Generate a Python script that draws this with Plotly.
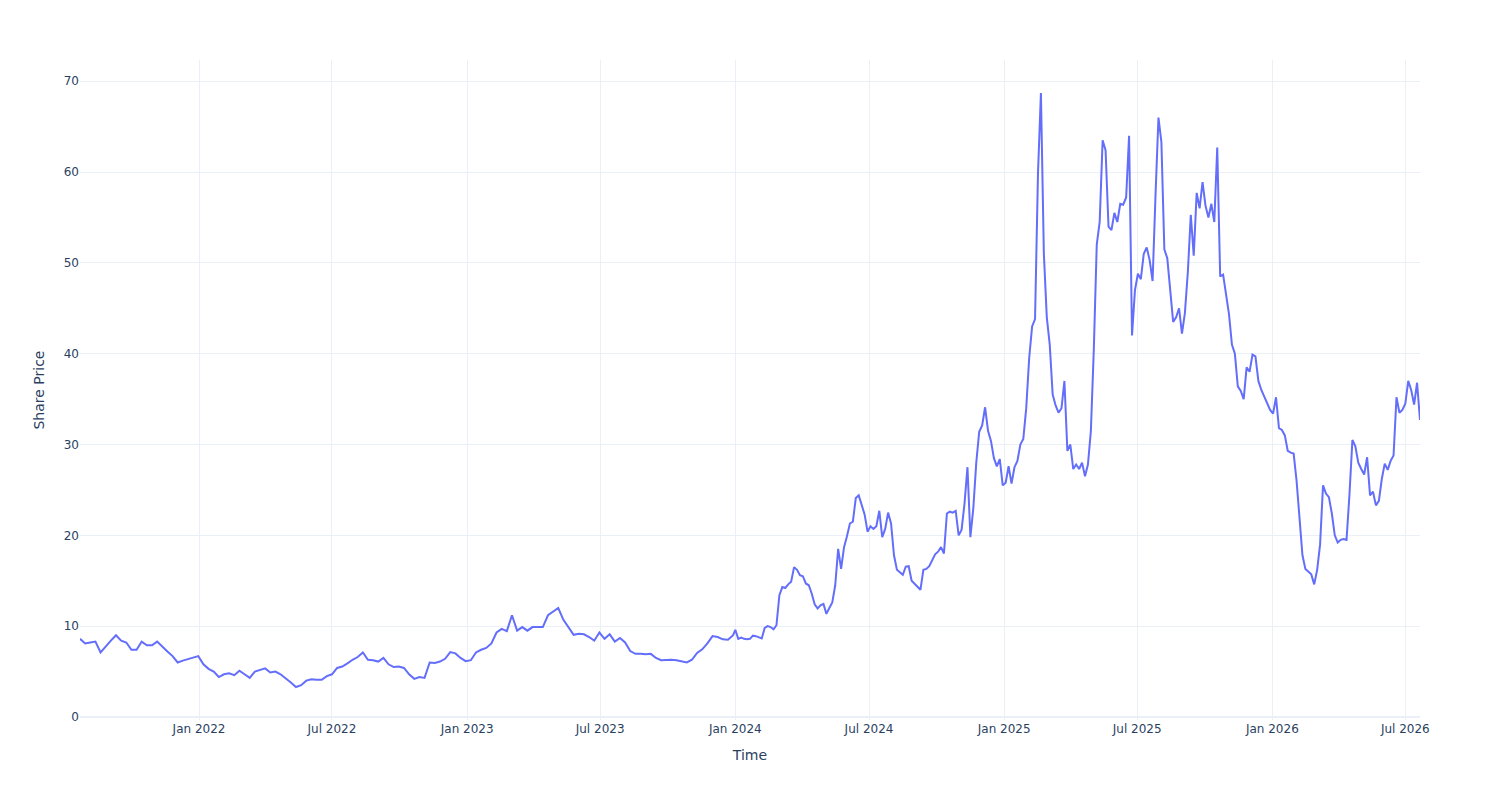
import pandas as pd
import plotly.graph_objects as go

# Weekly closes, Jul 2021 - Dec 2023
prices_2021_2023 = [
    8.6, 8.1, 8.2, 8.3, 7.1, 7.8, 8.4, 9.0, 8.4, 8.2,
    7.4, 7.4, 8.3, 7.9, 7.9, 8.3, 7.7, 7.2, 6.7, 6.0,
    6.2, 6.35, 6.5, 6.7, 5.8, 5.3, 5.0, 4.4, 4.7, 4.8,
    4.6, 5.1, 4.7, 4.3, 5.0, 5.2, 5.35, 4.9, 5.0, 4.7,
    4.3, 3.8, 3.3, 3.5, 4.0, 4.15, 4.1, 4.1, 4.5, 4.7,
    5.4, 5.55, 5.9, 6.3, 6.6, 7.1, 6.3, 6.25, 6.1, 6.5,
    5.8, 5.5, 5.55, 5.4, 4.7, 4.2, 4.4, 4.3, 6.0, 5.95,
    6.1, 6.4, 7.15, 7.0, 6.5, 6.15, 6.25, 7.1, 7.4, 7.6,
    8.1, 9.3, 9.7, 9.45, 11.2, 9.5, 9.9, 9.5, 9.9, 9.9,
    9.9, 11.2, 11.6, 12.0, 10.7, 9.85, 9.05, 9.15, 9.1, 8.8,
    8.4, 9.3, 8.6, 9.1, 8.3, 8.7, 8.2, 7.25, 6.95, 6.95,
    6.9, 6.95, 6.5, 6.25, 6.3, 6.3, 6.25, 6.1, 6.0, 6.3,
    7.05, 7.45, 8.1, 8.9, 8.8, 8.55, 8.5, 9.0,
]

# Every 4 days from 2024-01-01
prices_2024 = [
    9.6, 8.6, 8.75, 8.6, 8.55, 8.6, 8.95, 8.9, 8.8, 8.65,
    9.8, 10.0, 9.9, 9.65, 10.1, 13.4, 14.3, 14.2, 14.6, 14.9,
    16.5, 16.2, 15.6, 15.5, 14.7, 14.5, 13.6, 12.4, 11.96, 12.3,
    12.45, 11.35, 12.0, 12.6, 14.5, 18.5, 16.3, 18.7, 19.9, 21.3,
    21.5, 24.1, 24.4, 23.3, 22.3, 20.4, 21.0, 20.7, 21.0, 22.7,
    19.8, 20.7, 22.5, 21.3, 17.8, 16.2, 15.95, 15.65, 16.56, 16.6,
    15.0, 14.7, 14.4, 14.0, 16.2, 16.3, 16.6, 17.25, 17.9, 18.2,
    18.7, 18.0, 22.4, 22.6, 22.5, 22.7, 20.0, 20.6, 23.5, 27.5,
    19.8, 23.0, 28.0, 31.4, 32.1, 34.1, 31.5, 30.4, 28.5, 27.6,
    28.4, 25.5,
]

prices_2025 = [
    25.8, 27.6, 25.7, 27.5, 28.2, 30.0, 30.6, 34.0,
    39.5, 43.0, 43.8, 59.8, 68.7, 51.0, 44.0, 41.0, 35.5, 34.3,
    33.5, 34.0, 37.0, 29.3, 30.0, 27.3, 27.8, 27.3, 28.0, 26.5,
    27.8, 31.5, 40.5, 52.0, 54.5, 63.5, 62.4, 54.0, 53.6, 55.5,
    54.5, 56.5, 56.4, 57.2, 64.0, 42.0, 47.0, 48.8, 48.2, 51.0,
    51.7, 50.3, 48.0, 57.5, 66.0, 63.3, 51.5, 50.5, 47.2, 43.5,
    44.0, 45.0, 42.2, 44.5, 49.0, 55.3, 50.8, 57.7, 56.0, 58.9,
    56.3, 55.0, 56.5, 54.5, 62.7, 48.5, 48.7, 46.6, 44.35, 41.0,
    40.0, 36.4, 35.9, 35.0, 38.5, 38.0, 39.9, 39.7, 37.0, 36.0,
    35.3, 34.6, 33.8,
]

prices_2026 = [
    33.4, 35.2, 31.8, 31.6, 31.0, 29.3, 29.1,
    29.0, 26.0, 22.0, 17.8, 16.3, 16.0, 15.7, 14.6, 16.2, 19.0,
    25.5, 24.6, 24.2, 22.4, 20.0, 19.2, 19.5, 19.6, 19.5, 24.5,
    30.5, 29.8, 28.0, 27.3, 26.7, 28.6, 24.4, 24.8, 23.3, 23.8,
    26.2, 27.9, 27.2, 28.2, 28.8, 35.2, 33.5, 33.8, 34.5, 37.0,
    36.0, 34.4, 36.8, 32.7,
]

dates_a = pd.date_range("2021-07-23", periods=len(prices_2021_2023), freq="7D")
recent = prices_2024 + prices_2025 + prices_2026
dates_b = pd.date_range("2024-01-01", periods=len(recent), freq="4D")

x = list(dates_a) + list(dates_b)
y = prices_2021_2023 + recent

fig = go.Figure(go.Scatter(x=x, y=y, mode="lines", line=dict(color="#636efa", width=2)))
fig.update_layout(
    template="plotly_white",
    width=1500,
    height=800,
    margin=dict(l=80, r=80, t=60, b=80),
    font=dict(family="DejaVu Sans"),
    xaxis_title="Time",
    yaxis_title="Share Price",
    showlegend=False,
)
fig.write_html("out.html")
